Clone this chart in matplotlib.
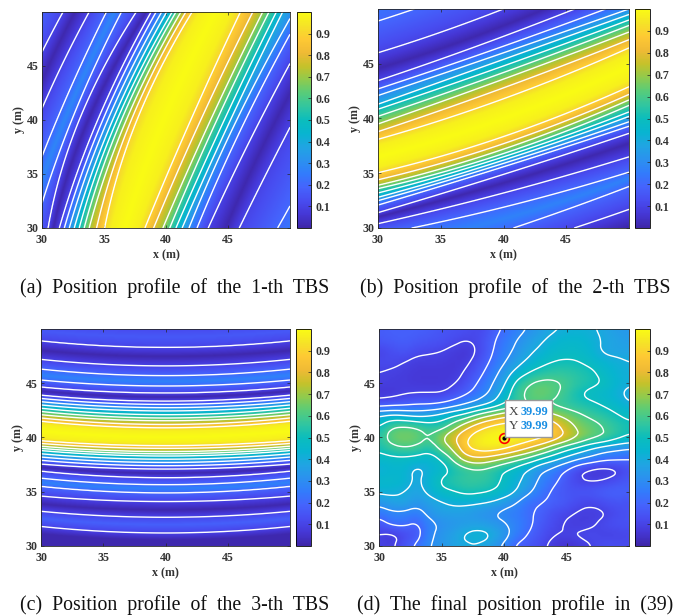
import numpy as np
import matplotlib
matplotlib.use('Agg')
import matplotlib.pyplot as plt
from matplotlib.colors import LinearSegmentedColormap
from matplotlib.patches import Rectangle

plt.rcParams['font.family'] = ['Liberation Serif', 'DejaVu Serif']

# parula colours
parula = LinearSegmentedColormap.from_list('parula', [
    (0.2422,0.1504,0.6603),(0.2706,0.2147,0.8364),(0.2813,0.3006,0.9414),(0.2699,0.3892,0.9906),
    (0.1963,0.4847,0.9892),(0.1687,0.5703,0.9359),(0.1248,0.6459,0.8883),(0.0297,0.7082,0.8163),
    (0.0433,0.7411,0.7394),(0.1938,0.7758,0.6251),(0.3406,0.8008,0.4789),(0.5616,0.7942,0.3045),
    (0.7738,0.7598,0.1646),(0.9393,0.7288,0.2100),(0.9952,0.7893,0.2028),(0.9610,0.8890,0.1537),
    (0.9769,0.9839,0.0805)], N=256)

rise = [.1,.2,.3,.4,.5,.6,.7,.8,.9,.97]
fall = [.97,.9,.8,.7,.6,.5,.4,.3,.2,.1]

# panel a: where each band value is crossed along x, read at y = 30, 40, 50
a_rows = [30, 40, 50]
a_vals = [.17,.1,.01,.1,.2,.28,.2,.1,.01] + rise + [1] + fall + [.01,.1,.2,.25,.2,.1,.01]
a_x_30 = [22.5,24.5,25.6,26.5,27.9,28.7,29.4,30.5,30.9,31.4,31.8,32.2,32.6,33,33.4,33.8,34.4,35.05,35.6,36.7,37.75,
          38.3,39,39.75,40.3,40.8,41.3,41.85,42.5,43.4,44.85,45.9,49,50.5,52,54,55.5]
a_x_40 = [26.5,27.5,28.6,29.6,31.2,31.8,32.4,33.0,33.7,34.5,34.9,35.3,35.7,36.05,36.4,36.8,37.2,37.65,38.4,39.8,41.25,
          42,42.8,43.6,44.1,44.7,45.2,45.7,46.4,47.6,48.9,50.3,53.5,55,56.5,58,59.5]
a_x_50 = [30.2,31.7,32.6,33.8,35.2,35.8,36.4,37.6,38.4,38.8,39.2,39.65,40.05,40.5,40.8,41.2,41.6,42.1,42.75,44,45.3,
          46,47,47.8,48.3,48.9,49.4,50.3,51,52.3,53.8,55,57,58,59.5,61,62.5]

# panel b: crossings along y, read at x = 30, 40, 50
b_cols = [30, 40, 50]
b_vals = [.01,.1,.2,.27,.2,.1,.01] + rise + [1] + fall + [.01,.1,.2,.25,.2,.1,.01]
b_y_30 = [24,25,26.2,28.2,29.4,30.4,31.0,31.4,32.1,32.5,32.8,33.2,33.6,33.9,34.4,35.05,35.55,36.5,37.55,
          38.1,38.8,39.5,40.2,40.85,41.3,42.1,42.7,43.45,44.6,46,48.9,51,53,55,56]
b_y_40 = [27,28,29.7,30.8,31.9,33.2,34.1,34.9,35.6,35.9,36.2,36.5,36.8,37.2,37.7,38.35,38.9,40,41.2,
          41.8,42.8,43.6,44.2,44.8,45.4,46,46.6,47.5,48.5,50,53,55,57,59,60]
b_y_50 = [30.1,31.7,33.8,34.5,35.1,36.5,37.7,38.65,39.3,39.7,40.2,40.6,41.2,41.7,42.2,42.9,43.5,44.7,45.85,
          46.45,47.2,47.9,48.5,49,49.5,50,50.8,52,53.5,55,58,60,62,64,65]

# panel c: crossings along y, read at x = 30, 40, 50
c_cols = [30, 40, 50]
c_vals = [.01,.1,.18,.1,.01,.1,.2,.27,.2,.1,.01] + rise + [1] + fall + [.01,.1,.2,.27,.2,.1,.01,.1,.16,.11]
c_y_40 = [30.55,31.2,31.95,32.65,33.3,34.1,34.9,35.3,35.65,36.3,36.7,37.1,37.4,37.7,38.0,38.3,38.5,38.7,39.0,39.25,39.5,40.05,40.6,
          40.9,41.2,41.55,41.8,42.1,42.45,42.75,43.05,43.35,43.75,44.1,44.75,45.2,45.7,46.6,47.5,48.3,49.3,50.2]
c_y_30 = [31.1,31.8,32.5,33.2,33.85,34.6,35.5,35.85,36.25,36.9,37.25,37.55,37.9,38.2,38.5,38.8,39.0,39.2,39.45,39.7,40.0,40.6,41.2,
          41.5,41.8,42.1,42.4,42.7,43.0,43.3,43.6,43.9,44.3,44.65,45.3,45.75,46.3,47.2,48.05,48.9,49.85,50.75]

# panel d: values read on a 1 m grid, rows from y=50 down to y=30, x=30..50
d_grid = np.array([
 [.17,.18,.18,.18,.17,.15,.14,.13,.11,.16,.21,.26,.31,.35,.39,.41,.42,.41,.38,.35,.33],
 [.16,.17,.18,.16,.15,.14,.12,.10,.12,.18,.24,.30,.35,.39,.43,.45,.45,.43,.39,.37,.35],
 [.10,.13,.15,.12,.11,.10,.08,.06,.11,.19,.26,.32,.38,.42,.46,.47,.47,.44,.38,.37,.37],
 [.12,.12,.10,.08,.08,.08,.07,.08,.14,.21,.29,.36,.42,.47,.50,.51,.50,.47,.44,.42,.40],
 [.10,.09,.08,.07,.07,.07,.07,.11,.17,.25,.34,.43,.50,.54,.56,.56,.54,.52,.47,.43,.41],
 [.09,.08,.08,.07,.07,.07,.09,.14,.21,.29,.38,.53,.60,.63,.62,.59,.55,.52,.50,.44,.41],
 [.06,.07,.09,.10,.10,.10,.14,.19,.25,.32,.44,.57,.63,.65,.62,.57,.50,.47,.45,.42,.37],
 [.16,.17,.18,.20,.20,.22,.26,.31,.36,.42,.50,.56,.60,.60,.58,.56,.54,.52,.49,.46,.41],
 [.40,.43,.41,.38,.40,.44,.50,.55,.65,.72,.78,.80,.80,.78,.72,.67,.62,.58,.55,.51,.48],
 [.50,.60,.62,.60,.55,.56,.66,.78,.87,.93,.96,.97,.96,.94,.86,.76,.68,.64,.60,.56,.52],
 [.55,.65,.67,.65,.60,.70,.80,.90,.97,1.0,1.0,.98,.96,.93,.87,.79,.70,.64,.60,.54,.49],
 [.52,.57,.60,.58,.53,.63,.73,.90,.95,.96,.93,.87,.80,.72,.62,.53,.47,.40,.35,.32,.30],
 [.46,.47,.47,.46,.44,.50,.62,.75,.78,.74,.68,.62,.56,.48,.42,.36,.30,.26,.22,.21,.20],
 [.41,.44,.44,.37,.42,.45,.52,.56,.58,.55,.50,.45,.38,.31,.26,.19,.11,.07,.06,.08,.13],
 [.46,.46,.44,.38,.44,.52,.55,.57,.57,.55,.48,.42,.36,.27,.22,.15,.10,.09,.10,.13,.16],
 [.42,.42,.40,.37,.42,.48,.50,.53,.52,.50,.46,.40,.32,.24,.18,.15,.15,.16,.18,.19,.18],
 [.33,.37,.38,.33,.36,.39,.42,.42,.41,.39,.35,.30,.22,.20,.18,.16,.12,.11,.13,.15,.14],
 [.24,.28,.28,.25,.33,.36,.36,.35,.32,.30,.27,.25,.21,.18,.13,.11,.09,.08,.09,.12,.14],
 [.15,.22,.22,.18,.27,.31,.33,.35,.36,.34,.31,.27,.22,.16,.12,.09,.08,.09,.12,.14,.14],
 [.09,.07,.12,.15,.28,.33,.37,.42,.44,.41,.34,.26,.19,.14,.10,.10,.11,.12,.10,.10,.11],
 [.10,.08,.15,.22,.30,.33,.37,.39,.39,.35,.28,.18,.15,.12,.07,.05,.07,.10,.13,.13,.12],
])

peak_x, peak_y = 39.99, 39.99
ticks = [30, 35, 40, 45]
cb_ticks = [.1,.2,.3,.4,.5,.6,.7,.8,.9]
levels = [.1,.2,.3,.4,.5,.6,.7,.8,.9]
captions = ['(a)  Position  profile  of  the  1-th  TBS', '(b)  Position  profile  of  the  2-th  TBS',
            '(c)  Position  profile  of  the  3-th  TBS', '(d)  The  final  position  profile  in  (39)']

W, H = 683, 615
grid = np.linspace(30, 50, 301)


def bands(rows, table, vals):
    # each column of table is one crossing, bent through the rows it was read on
    table = np.array(table).T
    out = np.zeros((len(grid), len(grid)))
    paths = np.array([np.polyval(np.polyfit(rows, c, 2), grid) for c in table])
    for i in range(len(grid)):
        out[i] = np.interp(grid, np.maximum.accumulate(paths[:, i]), vals)
    return out


def soften(Z):
    # the grid is coarse, round it off so the contours don't kink at each cell
    fine = np.linspace(30, 50, 161)
    base = np.arange(30, 51)
    Z = np.array([np.interp(fine, base, r) for r in Z])
    Z = np.array([np.interp(fine, base, c) for c in Z.T]).T
    k = np.ones(9) / 9
    for axis in (0, 1):
        Z = np.apply_along_axis(lambda r: np.convolve(np.pad(r, 4, mode='edge'), k, mode='valid'), axis, Z)
    return fine, Z


Za = bands(a_rows, [a_x_30, a_x_40, a_x_50], a_vals)
Zb = bands(b_cols, [b_y_30, b_y_40, b_y_50], b_vals).T
Zc = bands(c_cols, [c_y_30, c_y_40, c_y_30], c_vals).T
d_xy, Zd = soften(d_grid[::-1])

fig = plt.figure(figsize=(W/100, H/100), dpi=100)


def box(l, t, r, b):
    return [l/W, 1-b/H, (r-l)/W, (b-t)/H]


def panel(Z, xs, rect, cbrect, cap, capx, capy):
    ax = fig.add_axes(box(*rect))
    im = ax.imshow(Z, origin='lower', extent=[30, 50, 30, 50], cmap=parula, vmin=0, vmax=1,
                   aspect='auto', interpolation='bilinear')
    ax.contour(xs, xs, Z, levels=levels, colors='white', linewidths=1.0)
    ax.set_xlim(30, 50)
    ax.set_ylim(30, 50)
    ax.set_xticks(ticks)
    ax.set_yticks(ticks)
    ax.tick_params(direction='in', length=2.5, width=0.5, labelsize=8.6, pad=2.5, top=True, right=True, color='#262626')
    ax.tick_params(axis='x', pad=4)
    for t in ax.get_xticklabels()+ax.get_yticklabels():
        t.set_fontweight('bold')
        t.set_color('#333333')
    ax.set_xlabel('x (m)', fontsize=8.6, fontweight='bold', color='#333333', labelpad=2.5)
    ax.set_ylabel('y (m)', fontsize=8.6, fontweight='bold', color='#333333', labelpad=1)
    for s in ax.spines.values():
        s.set_linewidth(0.6)
        s.set_color('#262626')
    cax = fig.add_axes(box(*cbrect))
    cb = fig.colorbar(im, cax=cax)
    cb.set_ticks(cb_ticks)
    cb.ax.tick_params(direction='in', length=2, width=0.5, labelsize=8.6, pad=3, color='#262626')
    for t in cb.ax.get_yticklabels():
        t.set_fontweight('bold')
        t.set_color('#333333')
    cb.outline.set_linewidth(0.6)
    fig.text(capx/W, 1-capy/H, cap, fontsize=14.3, ha='center', va='center', color='#111111')
    return ax


panel(Za, grid, (42, 12, 290, 228), (297, 12, 311, 228), captions[0], 175, 288)
panel(Zb, grid, (378, 9, 629, 228), (635, 9, 650, 228), captions[1], 515, 288)
panel(Zc, grid, (41, 329, 290, 546), (296, 329, 311, 546), captions[2], 175, 605)
axd = panel(Zd, d_xy, (379, 329, 629, 546), (635, 329, 650, 546), captions[3], 515, 605)

# data tip
axd.plot([peak_x], [peak_y], 'o', ms=7, mfc='none', mec='red', mew=1.2)
axd.plot([peak_x], [peak_y], 'o', ms=2, color='black')
axd.add_patch(Rectangle((40.08, 40.05), 3.76, 3.41, fc='white', ec='#999999', lw=1, zorder=5))
axd.text(40.4, 42.38, 'X', fontsize=9.5, color='#444444', va='center', zorder=6)
axd.text(41.36, 42.38, '39.99', fontsize=8.8, color='#1a8fe3', fontweight='bold', va='center', zorder=6)
axd.text(40.4, 41.06, 'Y', fontsize=9.5, color='#444444', va='center', zorder=6)
axd.text(41.36, 41.06, '39.99', fontsize=8.8, color='#1a8fe3', fontweight='bold', va='center', zorder=6)

fig.savefig('out.png', dpi=100)
